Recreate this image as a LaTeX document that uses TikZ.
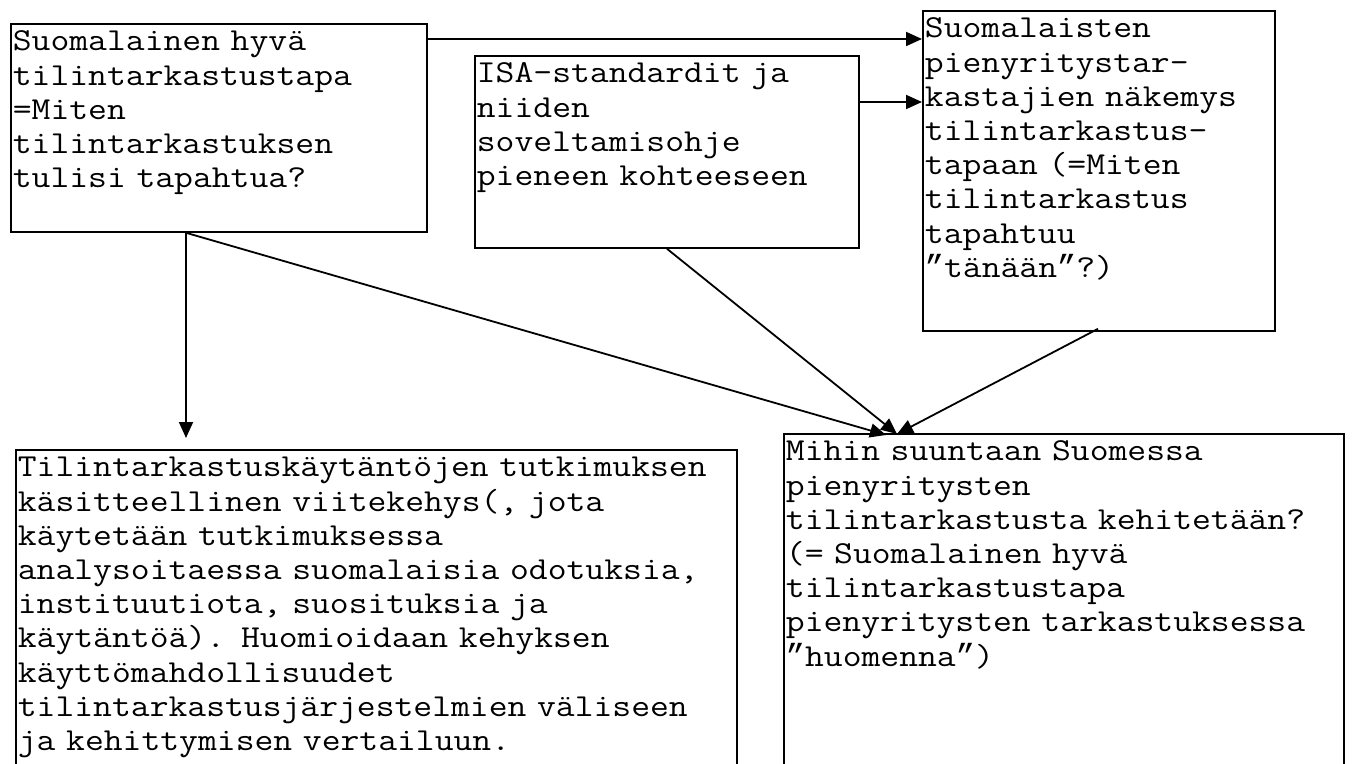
\documentclass[tikz,border=0pt]{standalone}
\usepackage{fontspec}
\setmonofont{Latin Modern Mono}[FakeStretch=1.143]
\newfontfamily\quotefont{Liberation Mono}
\newcommand{\qmark}{{\quotefont ”}}
\usetikzlibrary{arrows.meta,calc}

\begin{document}
\begin{tikzpicture}[x=0.5pt,y=-0.5pt,
  textbox/.style={draw,line width=0.9pt,anchor=north west,align=left,
    inner xsep=1pt,inner ysep=0pt,text height=13.5pt,
    font=\fontsize{16}{17.1}\selectfont\ttfamily},
  flow/.style={-{Triangle[length=8pt,width=7pt]},line width=0.9pt}]

% page size, the two lower boxes run off the page
\useasboundingbox (0,0) rectangle (1352,764);
\clip (0,0) rectangle (1352,764);

% Add the boxes
\node[textbox,text width=206pt,text depth=90.5pt] (hyva) at (10,23)
  {Suomalainen hyvä\\tilintarkastustapa\\=Miten\\tilintarkastuksen\\tulisi tapahtua?};
\node[textbox,text width=190pt,text depth=82.5pt] (isa) at (474,55)
  {ISA-standardit ja\\niiden\\soveltamisohje\\pieneen kohteeseen};
\node[textbox,text width=174pt,text depth=146.5pt] (nakemys) at (922,10)
  {Suomalaisten\\pienyritystar-\\kastajien näkemys\\tilintarkastus-\\tapaan (=Miten\\tilintarkastus\\tapahtuu\\\qmark tänään\qmark ?)};
\node[textbox,text width=358.5pt,text depth=162pt] (viitekehys) at (15,449)
  {Tilintarkastuskäytäntöjen tutkimuksen\\käsitteellinen viitekehys(, jota\\käytetään tutkimuksessa\\analysoitaessa suomalaisia odotuksia,\\instituutiota, suosituksia ja\\käytäntöä). Huomioidaan kehyksen\\käyttömahdollisuudet\\tilintarkastusjärjestelmien väliseen\\ja kehittymisen vertailuun.};
\node[textbox,text width=278pt,text depth=170pt] (huomenna) at (783,433)
  {Mihin suuntaan Suomessa\\pienyritysten\\tilintarkastusta kehitetään?\\(= Suomalainen hyvä\\tilintarkastustapa\\pienyritysten tarkastuksessa\\\qmark huomenna\qmark )};

% Points where the arrows leave and meet the boxes
\coordinate (hyvaR) at ($(hyva.north east)+(0,16)$);
\coordinate (isaR) at ($(isa.north east)+(0,47)$);
\coordinate (hyvaB) at ($(hyva.south west)+(176,0)$);
\coordinate (isaB) at ($(isa.south west)+(193,0)$);
\coordinate (nakemysB) at ($(nakemys.south west)+(176,-3)$);
\coordinate (tip1) at ($(huomenna.north west)+(103,2)$);
\coordinate (tip2) at ($(huomenna.north west)+(114,1)$);

% Add arrows
\draw[flow] (hyvaR) -- (hyvaR -| nakemys.west);
\draw[flow] (isaR) -- (isaR -| nakemys.west);
\draw[flow,shorten >=5.5pt] (hyvaB) -- (hyvaB |- viitekehys.north);
\draw[flow] (hyvaB) -- (tip1);
\draw[flow] (isaB) -- (tip2);
\draw[flow] (nakemysB) -- (tip2);

\end{tikzpicture}
\end{document}
